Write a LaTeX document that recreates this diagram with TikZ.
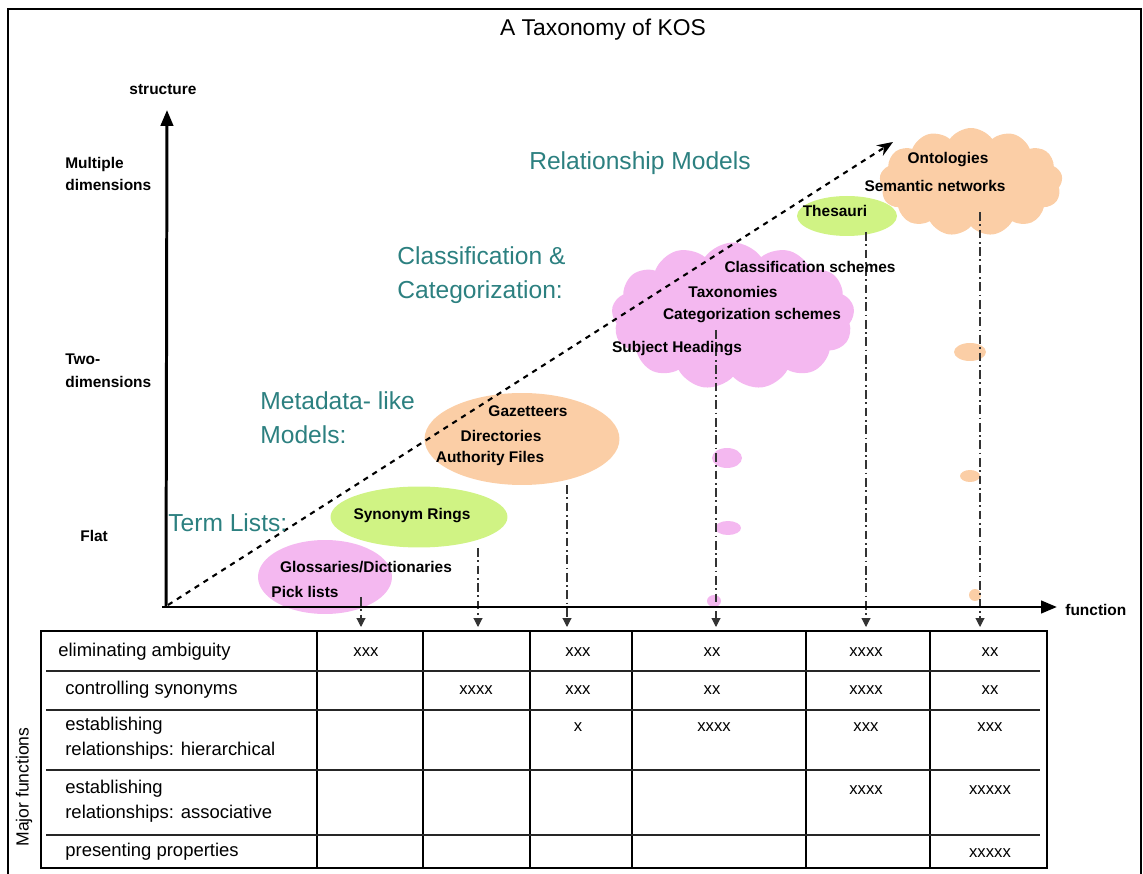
\documentclass[tikz,border=0pt]{standalone}
\usepackage{fontspec}
\setmainfont{Liberation Sans}
\usepackage{xcolor}
\usepackage{tikz}
\usetikzlibrary{shapes.geometric, shapes.symbols, arrows.meta, positioning, calc}

\definecolor{kospink}{RGB}{244,184,240}
\definecolor{kospeach}{RGB}{251,206,166}
\definecolor{kosgreen}{RGB}{208,243,132}
\definecolor{kosteal}{RGB}{44,128,128}

\begin{document}
\begin{tikzpicture}[
    x=0.02cm, y=-0.02cm,
    lbl/.style={font=\fontsize{8.8}{13}\selectfont\bfseries, inner sep=0pt},
    group/.style={font=\fontsize{14}{19.5}\selectfont, text=kosteal, align=left, inner sep=0pt},
    blob/.style={ellipse, inner sep=0pt},
    puff/.style={cloud, cloud puffs=13, cloud puff arc=110, inner sep=0pt, aspect=1.6},
    axis/.style={line width=1.7pt, -{Triangle[length=9pt,width=7pt]}},
    drop/.style={dash pattern=on 5pt off 2pt on 1pt off 2pt, line width=0.6pt, draw=black!80, -{Triangle[length=5pt,width=5pt]}},
    rowlbl/.style={font=\fontsize{10.5}{14.2}\selectfont, anchor=west, align=left, inner sep=0pt},
    cell/.style={font=\fontsize{9.5}{11}\selectfont, inner sep=0pt}
]
\useasboundingbox (0,0) rectangle (1143,874);

% frame and title
\draw[line width=1.1pt] (8,874) -- (8,9) -- (1141,9) -- (1141,874);
\node[font=\fontsize{13}{15}\selectfont] (title) at (603,30) {A Taxonomy of KOS};

% coloured shapes
\node[blob, fill=kospink, minimum width=2.68cm, minimum height=1.48cm] (gloss) at (325,577) {};
\node[blob, fill=kosgreen, minimum width=3.54cm, minimum height=1.22cm] (syn) at (419,517) {};
\node[blob, fill=kospeach, minimum width=3.9cm, minimum height=1.84cm] (gaz) at (522,439) {};
\node[puff, fill=kospink, minimum width=4.86cm, minimum height=2.94cm] (classcloud) at (733,316) {};
\node[blob, fill=kosgreen, minimum width=2.0cm, minimum height=0.8cm] (thes) at (847,216) {};
\node[puff, fill=kospeach, minimum width=3.66cm, minimum height=2.16cm] (ontocloud) at (971,182) {};

% small blobs along the drop lines
\node[blob, fill=kospink, minimum width=0.6cm, minimum height=0.4cm] (pinkA) at (727,458) {};
\node[blob, fill=kospink, minimum width=0.52cm, minimum height=0.28cm] (pinkB) at (728,528) {};
\node[blob, fill=kospink, minimum width=0.28cm, minimum height=0.24cm] (pinkC) at (714,601) {};
\node[blob, fill=kospeach, minimum width=0.64cm, minimum height=0.36cm] (peachA) at (970,352) {};
\node[blob, fill=kospeach, minimum width=0.4cm, minimum height=0.24cm] (peachB) at (970,476) {};
\node[blob, fill=kospeach, minimum width=0.24cm, minimum height=0.24cm] (peachC) at (975,595) {};

% axes
\coordinate (origin) at (167,607);
\coordinate (ytip) at (167,110);
\coordinate (xtip) at (1057,607);
\coordinate (diagtip) at (893,142);
\draw[dashed, line width=1.2pt, -{Stealth[length=9pt,width=7pt]}] (168,605) -- (diagtip);

% drop lines to the table
\foreach \n/\x/\y in {1/361/597, 2/478/548, 3/567/485, 4/716/330, 5/866/232, 6/980/212} {
  \coordinate (top\n) at (\x,\y);
  \coordinate (end\n) at (\x,627);
  \draw[drop] (top\n) -- (end\n);
}

\draw[axis] (166,607) -- (ytip);
\draw[axis] (162,607) -- (xtip);

% axis labels
\node[lbl] (structure) at (163,90) {structure};
\node[lbl, anchor=west] (function) at (1065,610) {function};
\node[lbl, anchor=west, align=left] (multi) at (65,174) {Multiple\\dimensions};
\node[lbl, anchor=west, align=left] (twodim) at (65,371) {Two-\\dimensions};
\node[lbl, anchor=west] (flat) at (80,536) {Flat};

% group labels
\node[group] (relmodels) at (640,163) {Relationship Models};
\node[group, anchor=west] (classgrp) at (397,275) {Classification \&\\Categorization:};
\node[group, anchor=west] (metagrp) at (260,418) {Metadata- like\\Models:};
\node[group, anchor=west] (termgrp) at (168,523) {Term Lists:};

% KOS types
\node[lbl] (glossary) at (366,567) {Glossaries/Dictionaries};
\node[lbl] (picklists) at (305,592) {Pick lists};
\node[lbl] (synrings) at (412,516) {Synonym Rings};
\node[lbl] (gazetteers) at (528,411) {Gazetteers};
\node[lbl] (directories) at (501,436) {Directories};
\node[lbl] (authority) at (490,459) {Authority Files};
\node[lbl] (classschemes) at (810,267) {Classification schemes};
\node[lbl] (taxonomies) at (733,292) {Taxonomies};
\node[lbl] (catschemes) at (752,316) {Categorization schemes};
\node[lbl] (subjheadings) at (677,349) {Subject Headings};
\node[lbl] (thesauri) at (835,211) {Thesauri};
\node[lbl] (ontologies) at (948,160) {Ontologies};
\node[lbl] (semnets) at (935,186) {Semantic networks};

% table of major functions
\draw[line width=1.5pt] (41,631) rectangle (1047,868);
\foreach \x in {317,423,530,632,806,930}
  \draw[line width=0.7pt] (\x,631) -- (\x,868);
\foreach \y in {671,710,770,835}
  \draw[line width=0.7pt, draw=black!85] (46,\y) -- (1040,\y);

\node[rowlbl] (ambiguity) at (58,652) {eliminating ambiguity};
\node[rowlbl] (synonyms) at (65,690) {controlling synonyms};
\node[rowlbl] (hierarchical) at (65,738) {establishing\\relationships: hierarchical};
\node[rowlbl] (associative) at (65,801) {establishing\\relationships: associative};
\node[rowlbl] (properties) at (65,852) {presenting properties};
\node[font=\fontsize{10}{12}\selectfont, rotate=90] (majorfn) at (24,787) {Major functions};

\foreach \x/\y/\v in {366/652/xxx, 578/652/xxx, 712/652/xx, 866/652/xxxx, 990/652/xx,
                      476/690/xxxx, 578/690/xxx, 712/690/xx, 866/690/xxxx, 990/690/xx,
                      578/727/x, 714/727/xxxx, 866/727/xxx, 990/727/xxx,
                      866/790/xxxx, 990/790/xxxxx,
                      990/853/xxxxx}
  \node[cell] at (\x,\y) {\v};

\end{tikzpicture}
\end{document}
